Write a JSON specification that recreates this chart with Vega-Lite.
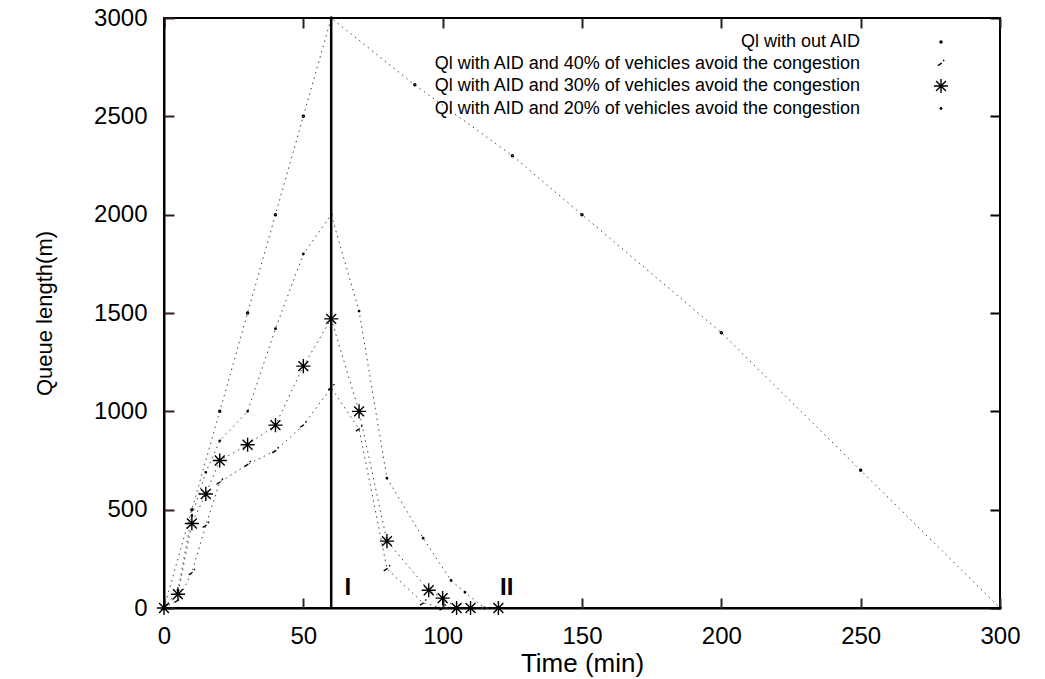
{
  "$schema": "https://vega.github.io/schema/vega-lite/v6.json",
  "width": 836,
  "height": 590,
  "autosize": {"type": "none"},
  "padding": {"left": 164, "top": 18, "right": 45, "bottom": 71},
  "background": "white",
  "config": {
    "view": {"stroke": "black", "strokeWidth": 2},
    "font": "Liberation Sans",
    "axis": {
      "grid": false,
      "domainColor": "black",
      "domainWidth": 2,
      "tickColor": "black",
      "tickWidth": 2,
      "labelColor": "black",
      "labelFont": "Liberation Sans",
      "labelFontSize": 24,
      "titleFont": "Liberation Sans",
      "titleFontSize": 24,
      "titleFontWeight": "normal",
      "titleColor": "black"
    }
  },
  "datasets": {
    "curves": [
      {"series": "Ql with out AID", "t": 0, "q": 0},
      {"series": "Ql with out AID", "t": 10, "q": 500},
      {"series": "Ql with out AID", "t": 20, "q": 1000},
      {"series": "Ql with out AID", "t": 30, "q": 1500},
      {"series": "Ql with out AID", "t": 40, "q": 2000},
      {"series": "Ql with out AID", "t": 50, "q": 2500},
      {"series": "Ql with out AID", "t": 60, "q": 3000},
      {"series": "Ql with out AID", "t": 90, "q": 2660},
      {"series": "Ql with out AID", "t": 125, "q": 2300},
      {"series": "Ql with out AID", "t": 150, "q": 2000},
      {"series": "Ql with out AID", "t": 200, "q": 1400},
      {"series": "Ql with out AID", "t": 250, "q": 700},
      {"series": "Ql with out AID", "t": 300, "q": 0},
      {"series": "Ql with AID and 40% of vehicles avoid the congestion", "t": 0, "q": 0},
      {"series": "Ql with AID and 40% of vehicles avoid the congestion", "t": 5, "q": 40},
      {"series": "Ql with AID and 40% of vehicles avoid the congestion", "t": 10, "q": 180},
      {"series": "Ql with AID and 40% of vehicles avoid the congestion", "t": 15, "q": 420},
      {"series": "Ql with AID and 40% of vehicles avoid the congestion", "t": 20, "q": 640},
      {"series": "Ql with AID and 40% of vehicles avoid the congestion", "t": 30, "q": 730},
      {"series": "Ql with AID and 40% of vehicles avoid the congestion", "t": 40, "q": 800},
      {"series": "Ql with AID and 40% of vehicles avoid the congestion", "t": 50, "q": 930},
      {"series": "Ql with AID and 40% of vehicles avoid the congestion", "t": 60, "q": 1120},
      {"series": "Ql with AID and 40% of vehicles avoid the congestion", "t": 70, "q": 910},
      {"series": "Ql with AID and 40% of vehicles avoid the congestion", "t": 80, "q": 200},
      {"series": "Ql with AID and 40% of vehicles avoid the congestion", "t": 93, "q": 25},
      {"series": "Ql with AID and 40% of vehicles avoid the congestion", "t": 100, "q": 0},
      {"series": "Ql with AID and 40% of vehicles avoid the congestion", "t": 105, "q": 0},
      {"series": "Ql with AID and 30% of vehicles avoid the congestion", "t": 0, "q": 0},
      {"series": "Ql with AID and 30% of vehicles avoid the congestion", "t": 5, "q": 70},
      {"series": "Ql with AID and 30% of vehicles avoid the congestion", "t": 10, "q": 430},
      {"series": "Ql with AID and 30% of vehicles avoid the congestion", "t": 15, "q": 580},
      {"series": "Ql with AID and 30% of vehicles avoid the congestion", "t": 20, "q": 750},
      {"series": "Ql with AID and 30% of vehicles avoid the congestion", "t": 30, "q": 830},
      {"series": "Ql with AID and 30% of vehicles avoid the congestion", "t": 40, "q": 930},
      {"series": "Ql with AID and 30% of vehicles avoid the congestion", "t": 50, "q": 1230},
      {"series": "Ql with AID and 30% of vehicles avoid the congestion", "t": 60, "q": 1470},
      {"series": "Ql with AID and 30% of vehicles avoid the congestion", "t": 70, "q": 1000},
      {"series": "Ql with AID and 30% of vehicles avoid the congestion", "t": 80, "q": 340},
      {"series": "Ql with AID and 30% of vehicles avoid the congestion", "t": 95, "q": 90},
      {"series": "Ql with AID and 30% of vehicles avoid the congestion", "t": 100, "q": 50},
      {"series": "Ql with AID and 30% of vehicles avoid the congestion", "t": 105, "q": 0},
      {"series": "Ql with AID and 30% of vehicles avoid the congestion", "t": 110, "q": 0},
      {"series": "Ql with AID and 30% of vehicles avoid the congestion", "t": 120, "q": 0},
      {"series": "Ql with AID and 20% of vehicles avoid the congestion", "t": 0, "q": 0},
      {"series": "Ql with AID and 20% of vehicles avoid the congestion", "t": 5, "q": 90},
      {"series": "Ql with AID and 20% of vehicles avoid the congestion", "t": 10, "q": 470},
      {"series": "Ql with AID and 20% of vehicles avoid the congestion", "t": 15, "q": 690},
      {"series": "Ql with AID and 20% of vehicles avoid the congestion", "t": 20, "q": 850},
      {"series": "Ql with AID and 20% of vehicles avoid the congestion", "t": 30, "q": 1000},
      {"series": "Ql with AID and 20% of vehicles avoid the congestion", "t": 40, "q": 1420},
      {"series": "Ql with AID and 20% of vehicles avoid the congestion", "t": 50, "q": 1800},
      {"series": "Ql with AID and 20% of vehicles avoid the congestion", "t": 60, "q": 2000},
      {"series": "Ql with AID and 20% of vehicles avoid the congestion", "t": 70, "q": 1510},
      {"series": "Ql with AID and 20% of vehicles avoid the congestion", "t": 80, "q": 660},
      {"series": "Ql with AID and 20% of vehicles avoid the congestion", "t": 93, "q": 355},
      {"series": "Ql with AID and 20% of vehicles avoid the congestion", "t": 103, "q": 140},
      {"series": "Ql with AID and 20% of vehicles avoid the congestion", "t": 108, "q": 80},
      {"series": "Ql with AID and 20% of vehicles avoid the congestion", "t": 115, "q": 0},
      {"series": "Ql with AID and 20% of vehicles avoid the congestion", "t": 120, "q": 0}
    ],
    "marker": [{"t": 60, "q0": 0, "q1": 3000}],
    "phases": [
      {"t": 66, "q": 100, "txt": "I"},
      {"t": 123, "q": 100, "txt": "II"}
    ]
  },
  "layer": [
    {
      "data": {"name": "curves"},
      "mark": {"type": "line", "color": "#444444", "strokeWidth": 1, "strokeDash": [1.5, 4]},
      "encoding": {
        "x": {"field": "t", "type": "quantitative", "scale": {"domain": [0, 300], "nice": false, "zero": false},
          "axis": {"orient": "bottom", "values": [0, 50, 100, 150, 200, 250, 300], "format": "d", "ticks": false, "title": "Time (min)", "titleFontSize": 26, "labelPadding": 16, "titlePadding": 2, "labelFlush": false}},
        "y": {"field": "q", "type": "quantitative", "scale": {"domain": [0, 3000], "nice": false},
          "axis": {"orient": "left", "values": [0, 500, 1000, 1500, 2000, 2500, 3000], "format": "d", "ticks": false, "title": "Queue length(m)", "titleFontSize": 22, "labelPadding": 17, "titlePadding": 37, "labelFlush": false}},
        "detail": {"field": "series", "type": "nominal"}
      }
    },
    {
      "data": {"name": "curves"},
      "mark": {"type": "point", "filled": false, "color": "black", "size": 200, "strokeWidth": 1.4, "opacity": 1},
      "encoding": {
        "x": {"field": "t", "type": "quantitative", "scale": {"domain": [0, 300], "nice": false, "zero": false}, "axis": null},
        "y": {"field": "q", "type": "quantitative", "scale": {"domain": [0, 3000], "nice": false}, "axis": null},
        "shape": {
          "field": "series", "type": "nominal",
          "scale": {
            "domain": [
              "Ql with out AID",
              "Ql with AID and 40% of vehicles avoid the congestion",
              "Ql with AID and 30% of vehicles avoid the congestion",
              "Ql with AID and 20% of vehicles avoid the congestion"
            ],
            "range": [
              "M-0.15,0A0.15,0.15 0 1,0 0.15,0A0.15,0.15 0 1,0 -0.15,0Z",
              "M-0.45,0.3L0.1,-0.05M0.3,-0.35L0.45,-0.5",
              "M-1,0L1,0M0,-1L0,1M-0.7,-0.7L0.7,0.7M-0.7,0.7L0.7,-0.7",
              "M-0.1,0A0.1,0.1 0 1,0 0.1,0A0.1,0.1 0 1,0 -0.1,0Z"
            ]
          },
          "legend": {
            "title": null,
            "orient": "none",
            "legendX": 768,
            "legendY": 15,
            "direction": "vertical",
            "labelAlign": "right",
            "labelOffset": -90,
            "labelFont": "Liberation Sans",
            "labelFontSize": 18,
            "labelColor": "black",
            "labelLimit": 0,
            "symbolSize": 200,
            "symbolStrokeWidth": 1.4,
            "symbolStrokeColor": "black",
            "rowPadding": 3.5,
            "padding": 0
          }
        }
      }
    },
    {
      "data": {"name": "marker"},
      "mark": {"type": "rule", "color": "black", "strokeWidth": 2.5},
      "encoding": {
        "x": {"field": "t", "type": "quantitative", "scale": {"domain": [0, 300], "nice": false, "zero": false}, "axis": null},
        "y": {"field": "q0", "type": "quantitative", "scale": {"domain": [0, 3000], "nice": false}, "axis": null},
        "y2": {"field": "q1"}
      }
    },
    {
      "data": {"name": "phases"},
      "mark": {"type": "text", "color": "black", "font": "Liberation Sans", "fontSize": 24, "fontWeight": "bold", "baseline": "middle", "align": "center"},
      "encoding": {
        "x": {"field": "t", "type": "quantitative", "scale": {"domain": [0, 300], "nice": false, "zero": false}, "axis": null},
        "y": {"field": "q", "type": "quantitative", "scale": {"domain": [0, 3000], "nice": false}, "axis": null},
        "text": {"field": "txt", "type": "nominal"}
      }
    },
    {
      "data": {"name": "marker"},
      "mark": {"type": "point", "opacity": 0},
      "encoding": {
        "x": {"field": "t", "type": "quantitative", "scale": {"domain": [0, 300], "nice": false, "zero": false},
          "axis": {"orient": "top", "values": [0, 50, 100, 150, 200, 250, 300], "labels": false, "domain": false, "offset": -10, "tickSize": 10, "tickColor": "#202030", "title": null}},
        "y": {"field": "q1", "type": "quantitative", "scale": {"domain": [0, 3000], "nice": false},
          "axis": {"orient": "right", "values": [0, 500, 1000, 1500, 2000, 2500, 3000], "labels": false, "domain": false, "offset": -10, "tickSize": 10, "tickColor": "black", "title": null}}
      }
    },
    {
      "data": {"name": "marker"},
      "mark": {"type": "point", "opacity": 0},
      "encoding": {
        "x": {"field": "t", "type": "quantitative", "scale": {"domain": [0, 300], "nice": false, "zero": false},
          "axis": {"orient": "bottom", "values": [0, 50, 100, 150, 200, 250, 300], "labels": false, "domain": false, "offset": -10, "tickSize": 10, "tickColor": "#203020", "title": null}},
        "y": {"field": "q1", "type": "quantitative", "scale": {"domain": [0, 3000], "nice": false},
          "axis": {"orient": "left", "values": [0, 500, 1000, 1500, 2000, 2500, 3000], "labels": false, "domain": false, "offset": -10, "tickSize": 10, "tickColor": "#302020", "title": null}}
      }
    }
  ],
  "resolve": {"axis": {"x": "independent", "y": "independent"}}
}
